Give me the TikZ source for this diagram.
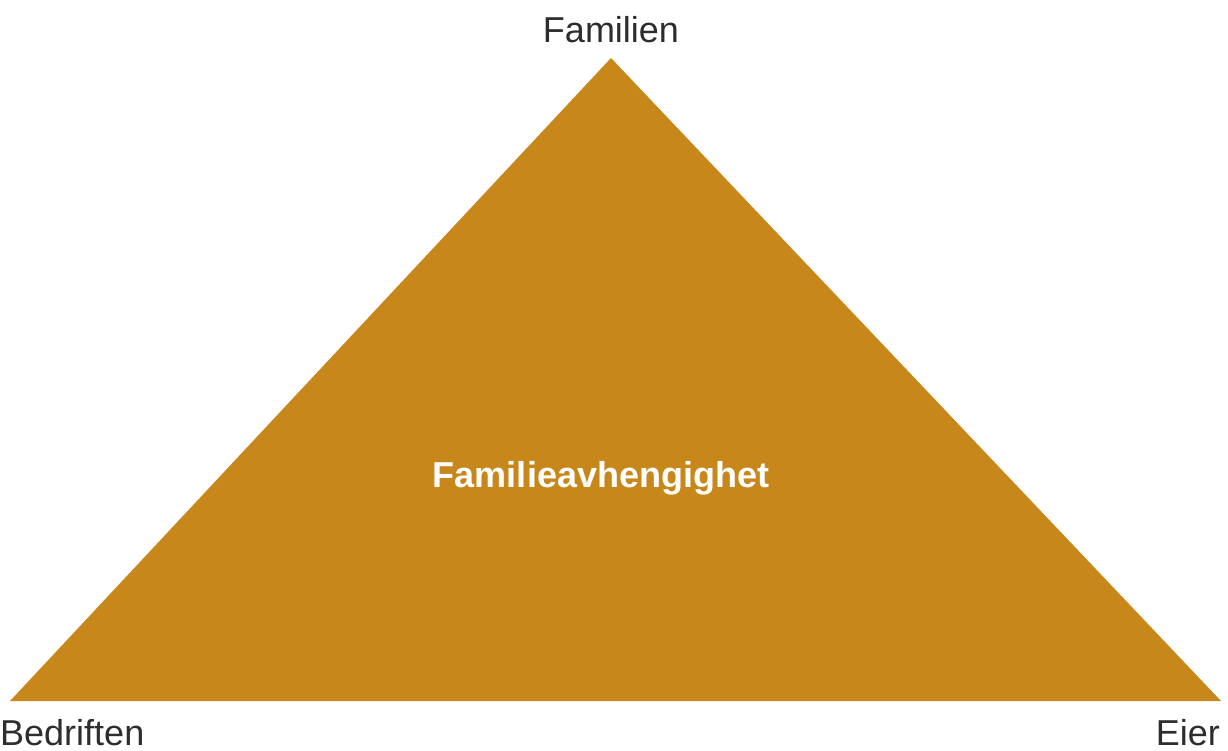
\documentclass[tikz,border=0pt]{standalone}
\usepackage{fontspec}
\setmainfont{Liberation Sans}
\usetikzlibrary{positioning}
\definecolor{ochre}{RGB}{200,135,26}
\definecolor{labelgray}{RGB}{45,45,45}
\tikzset{
  cornerlbl/.style={font=\fontsize{36}{40}\selectfont, text=labelgray,
    inner sep=0pt},
  centrelbl/.style={font=\fontsize{36}{40}\selectfont\bfseries,
    text=white, inner sep=0pt},
}

\begin{document}
\begin{tikzpicture}[x=1pt, y=-1pt]
  \useasboundingbox (0,0) rectangle (1228,751);

  % Triangle corners
  \coordinate (top)   at (611,58);
  \coordinate (left)  at (10,701);
  \coordinate (right) at (1221,701);
  \fill[ochre] (left) -- (top) -- (right) -- cycle;

  % Corner labels
  \node[cornerlbl, anchor=base] (familien) at (611,43) {Familien};
  \node[cornerlbl, anchor=base west] (bedriften) at (0,745) {Bedriften};
  \node[cornerlbl, anchor=base east] (eier) at (1220,745) {Eier};

  % Centre label
  \node[centrelbl, anchor=base] (avh) at (601,487) {Familieavhengighet};
\end{tikzpicture}
\end{document}
